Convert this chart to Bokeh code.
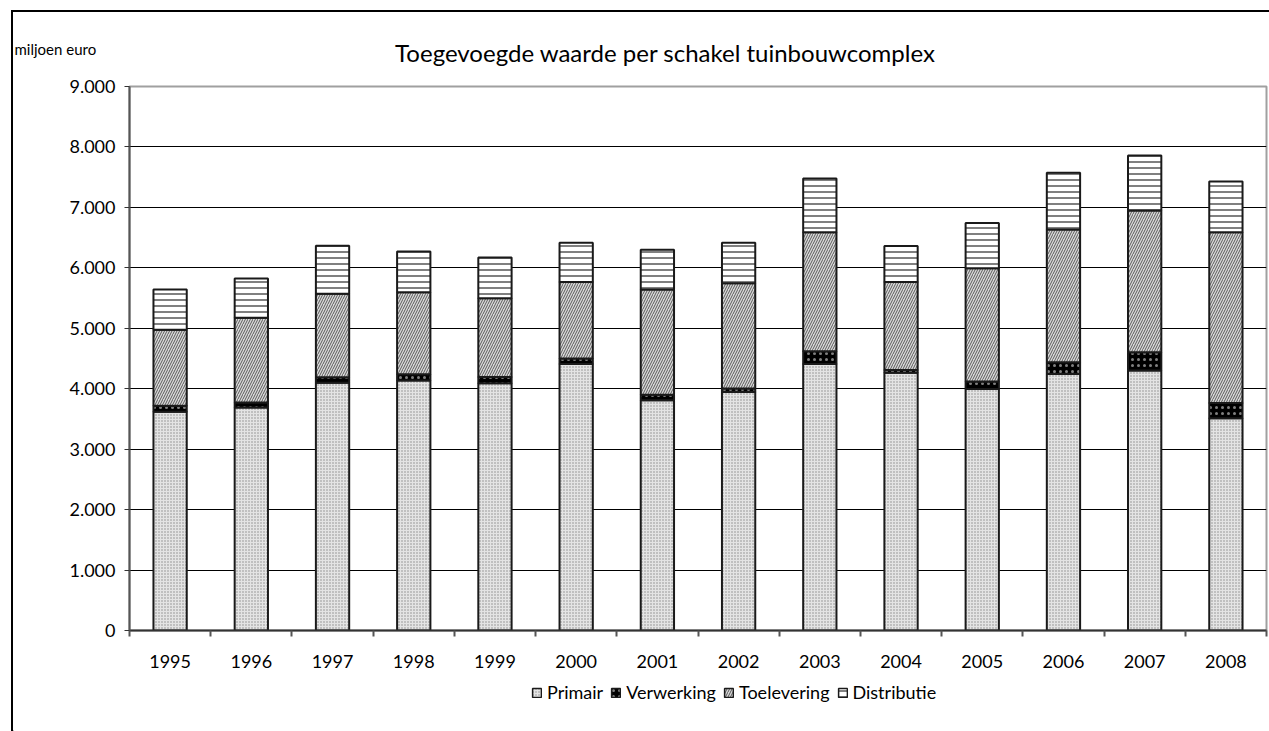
from bokeh.plotting import figure
from bokeh.layouts import column
from bokeh.models import (ColumnDataSource, Range1d, FixedTicker, Legend, LegendItem, Label)
from bokeh.embed import file_html
from bokeh.resources import INLINE

years = ["1995", "1996", "1997", "1998", "1999", "2000", "2001",
         "2002", "2003", "2004", "2005", "2006", "2007", "2008"]
primair = [3620, 3690, 4100, 4135, 4090, 4410, 3810, 3945, 4410, 4265, 3995, 4245, 4300, 3510]
verwerking = [100, 80, 90, 105, 105, 90, 90, 60, 210, 45, 125, 195, 305, 255]
toelevering = [1255, 1405, 1380, 1355, 1300, 1265, 1740, 1740, 1970, 1455, 1875, 2195, 2345, 2825]
distributie = [667, 650, 795, 675, 675, 650, 660, 670, 890, 595, 745, 940, 910, 840]
series_names = ["Primair", "Verwerking", "Toelevering", "Distributie"]
y_ticks = [0, 1000, 2000, 3000, 4000, 5000, 6000, 7000, 8000, 9000]

title_text = "Toegevoegde waarde per schakel tuinbouwcomplex"
unit_text = "miljoen euro"
FONT = "Lato"
W = 1256

xs = [i + 0.5 for i in range(len(years))]
src = ColumnDataSource(dict(x=xs, Primair=primair, Verwerking=verwerking,
                            Toelevering=toelevering, Distributie=distributie))

styles = [
    dict(fill_color="#e4e4e4", hatch_pattern="dot", hatch_color="#8a8a8a", hatch_scale=3, hatch_weight=1, hatch_alpha=1.0),
    dict(fill_color="#000000", hatch_pattern="dot", hatch_color="#ffffff", hatch_scale=6, hatch_weight=0.5, hatch_alpha=0.5),
    dict(fill_color="#d8d8d8", hatch_pattern="right_diagonal_line", hatch_color="#5a5a5a", hatch_scale=5, hatch_weight=1, hatch_alpha=1.0),
    dict(fill_color="#ffffff", hatch_pattern="horizontal_line", hatch_color="#808080", hatch_scale=6, hatch_weight=2, hatch_alpha=1.0),
]


def blank(fig):
    fig.axis.visible = False
    fig.grid.visible = False
    fig.outline_line_color = None
    fig.background_fill_color = "white"
    fig.border_fill_color = "white"
    fig.frame_align = False


# ---- header (title + unit) ----
h = figure(width=W, height=62, x_range=Range1d(0, W), y_range=Range1d(62, 0),
           output_backend="svg", toolbar_location=None,
           min_border_left=0, min_border_right=0, min_border_top=0, min_border_bottom=0)
blank(h)
h.add_layout(Label(x=652, y=40, text=title_text, text_font=FONT, text_font_size="24px",
                   text_align="center", text_baseline="middle", text_color="black"))
h.add_layout(Label(x=1, y=36, text=unit_text, text_font=FONT, text_font_size="15px",
                   text_align="left", text_baseline="middle", text_color="black"))

# ---- main chart ----
p = figure(width=W, height=600, x_range=Range1d(0, len(years)), y_range=Range1d(0, 9000),
           output_backend="svg", toolbar_location=None,
           min_border_left=116, min_border_right=3, min_border_top=12, min_border_bottom=44)
p.frame_align = False
p.outline_line_color = "#a0a0a0"
p.outline_line_width = 2
p.background_fill_color = "white"
p.border_fill_color = "white"

renderers = p.vbar_stack(series_names, x="x", width=0.41, source=src,
                         line_color="#1a1a1a", line_width=2,
                         fill_color=[s["fill_color"] for s in styles],
                         hatch_pattern=[s["hatch_pattern"] for s in styles],
                         hatch_color=[s["hatch_color"] for s in styles],
                         hatch_scale=[s["hatch_scale"] for s in styles],
                         hatch_weight=[s["hatch_weight"] for s in styles],
                         hatch_alpha=[s["hatch_alpha"] for s in styles])

p.xaxis.ticker = FixedTicker(ticks=xs, minor_ticks=list(range(len(years) + 1)))
p.xaxis.major_label_overrides = {x: y for x, y in zip(xs, years)}
p.xaxis.major_tick_line_color = None
p.xaxis.major_tick_out = 0
p.xaxis.minor_tick_line_color = "#555555"
p.xaxis.minor_tick_line_width = 2
p.xaxis.minor_tick_out = 6
p.xaxis.minor_tick_in = 0
p.xaxis.axis_line_color = "#333333"
p.xaxis.axis_line_width = 2
p.xaxis.major_label_standoff = 18
p.xaxis.major_label_text_font = FONT
p.xaxis.major_label_text_font_size = "18px"
p.xaxis.major_label_text_color = "black"

p.yaxis.ticker = FixedTicker(ticks=y_ticks)
p.yaxis.major_label_overrides = {v: f"{v:,}".replace(",", ".") for v in y_ticks}
p.yaxis.major_tick_line_color = "#333333"
p.yaxis.major_tick_line_width = 1
p.yaxis.major_tick_out = 5
p.yaxis.major_tick_in = 0
p.yaxis.minor_tick_line_color = None
p.yaxis.axis_line_color = "#555555"
p.yaxis.axis_line_width = 2
p.yaxis.major_label_standoff = 9
p.yaxis.major_label_text_font = FONT
p.yaxis.major_label_text_font_size = "18px"
p.yaxis.major_label_text_color = "black"

p.xgrid.grid_line_color = None
p.ygrid.grid_line_color = "black"
p.ygrid.grid_line_width = 1

# ---- legend strip (swatch renderers sit outside the visible range) ----
q = figure(width=W, height=57, x_range=Range1d(0, 1), y_range=Range1d(0, 1),
           output_backend="svg", toolbar_location=None,
           min_border_left=0, min_border_right=0, min_border_top=0, min_border_bottom=0)
blank(q)
swatches = []
for s in styles:
    swatches.append(q.vbar(x=[-10], top=[-10], bottom=[-11], width=0.1,
                           line_color="#1a1a1a", line_width=1.5, **s))
legend = Legend(items=[LegendItem(label=n, renderers=[r]) for n, r in zip(series_names, swatches)],
                orientation="horizontal", location=(518, 28),
                label_text_font=FONT, label_text_font_size="18px", label_text_color="black",
                glyph_width=11, glyph_height=11, label_standoff=5, spacing=7,
                border_line_color=None, background_fill_alpha=0, padding=0, margin=0)
q.add_layout(legend)

layout = column(h, p, q, spacing=0)
layout.styles = {"margin-left": "11px", "margin-top": "10px",
                 "border-left": "2px solid #000", "border-top": "2px solid #000"}

open("out.html", "w").write(file_html(layout, INLINE))
